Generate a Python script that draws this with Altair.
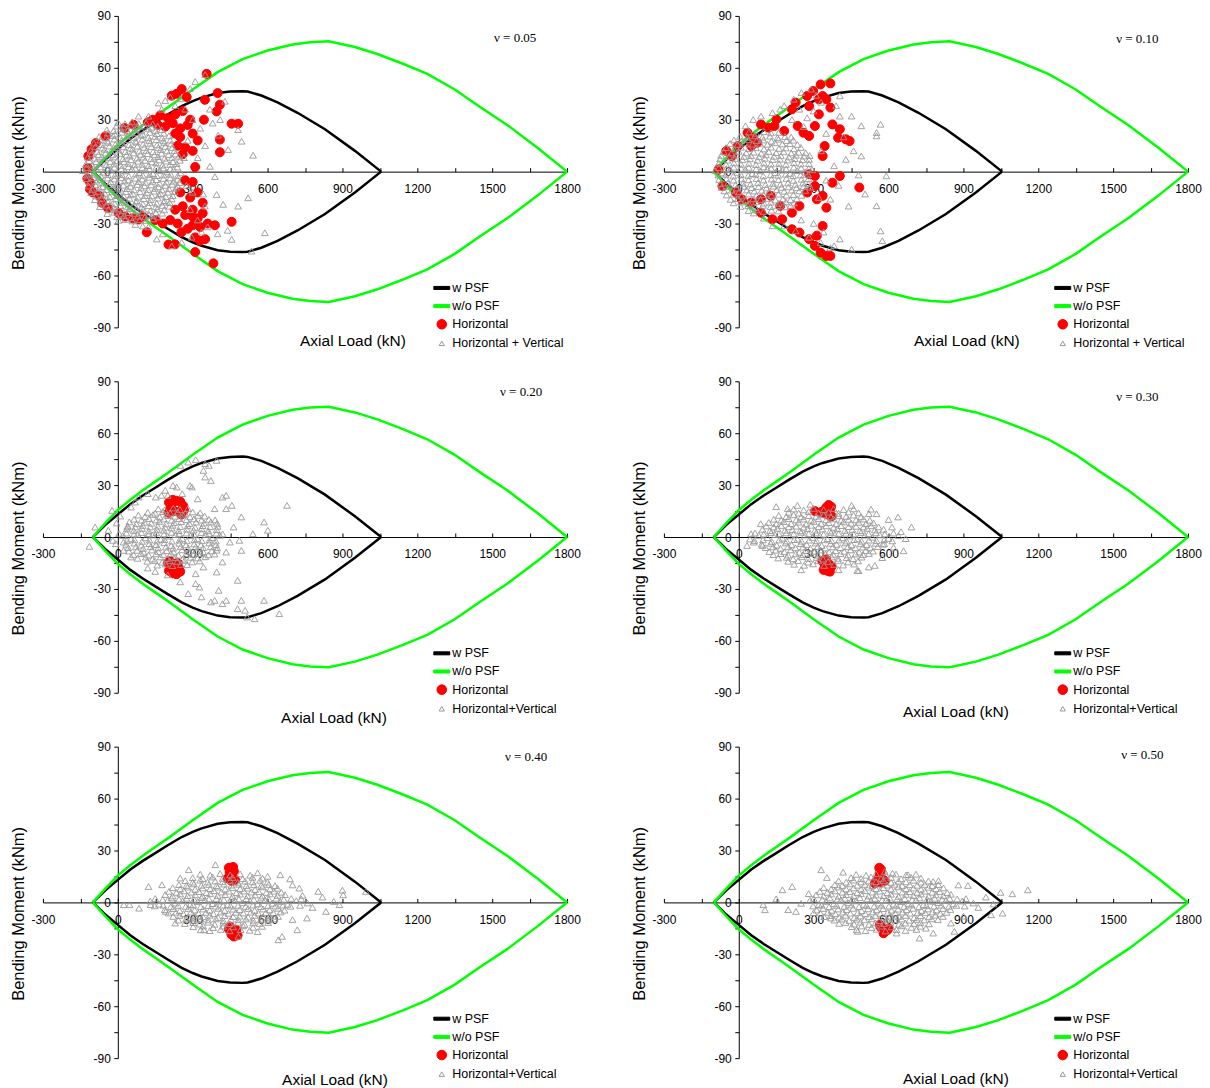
import altair as alt
import pandas as pd

FONT = "Liberation Sans"
W, H = 525, 312

# ---------------- envelopes (upper branch, lower branch is the mirror) ----------------
wpsf_n = [-100, -50, 0, 50, 100, 150, 200, 256, 300, 336, 400, 450, 500, 520, 575, 640, 720, 830, 950, 1055]
wpsf_m = [0, 7, 13, 19, 24, 28.5, 33, 37.8, 40.8, 42.8, 45.4, 46.3, 46.5, 46.3, 44, 40, 34, 24.5, 12, 0]
wopsf_n = [-100, -50, 0, 50, 100, 150, 200, 300, 400, 500, 600, 700, 770, 845, 950, 1040, 1140, 1240, 1350, 1450, 1560, 1680, 1800]
wopsf_m = [0, 8, 15.5, 21.5, 27, 32, 37, 47.5, 57.5, 65, 70, 73.5, 74.8, 75.3, 72, 68, 62.5, 56.5, 47.5, 37.5, 27, 14, 0]

x_ticks = [-300, -150, 0, 150, 300, 450, 600, 750, 900, 1050, 1200, 1350, 1500, 1650, 1800]
y_ticks = [-90, -75, -60, -45, -30, -15, 0, 15, 30, 45, 60, 75, 90]

nu_labels = ["ν = 0.05", "ν = 0.10", "ν = 0.20", "ν = 0.30", "ν = 0.40", "ν = 0.50"]
nu_n = [1592, 1597, 1616, 1597, 1636, 1617]
nu_m = [77.5, 76.7, 83.6, 80.8, 84.2, 85.4]
hv_names = ["Horizontal + Vertical", "Horizontal + Vertical", "Horizontal+Vertical",
            "Horizontal+Vertical", "Horizontal+Vertical", "Horizontal+Vertical"]
xtitle_x = [310, 303, 291, 292, 292, 292]
xtitle_y = [169, 169, 181, 175, 177, 176]

# ---------------- nu = 0.05 ----------------
hor_005 = [
    (356, 56.5), (216, 43.9), (236, 45), (256, 47.7), (276, 43.1), (349, 41.5), (400, 45.4), (409, 38.7), (396, 34.8),
    (345, 30), (456, 27.7), (482, 27.7), (409, 18.5), (409, 11.2), (310, 2.7), (63, 27.1), (27, 25.2), (140, 30),
    (170, 32.5), (200, 31), (230, 33), (260, 35), (290, 30), (300, 22), (320, 18), (300, 12), (280, 27), (250, 25),
    (220, 28), (190, 26), (160, 27), (120, 28.5), (-120, 2), (-122, -4), (-118, 9), (-112, -10), (-110, -6.5),
    (-100, -12), (-63, -18), (3, -23.9), (-88, 16.5), (-50, 20.4), (-105, 13), (-75, -14), (-40, -21), (30, -26),
    (60, -27), (83, -27.7), (116, -35), (203, -42.1), (229, -42), (310, -46.5), (383, -53), (310, -38), (330, -40),
    (350, -39), (389, -31), (456, -29), (150, -28), (180, -30), (210, -28), (240, -30), (270, -25), (300, -22),
    (320, -27), (340, -24), (360, -30), (300, -31), (280, -33), (260, -20), (290, -15), (320, -12), (340, -18),
    (250, -12), (270, -5), (300, -6), (100, -26), (230, -22), (255, -35), (330, -32), (300, -26), (240, 15),
    (260, 10), (250, 20), (270, 14), (230, 22),
]
hv_005 = [
    (-140, 0.5), (-113, -1), (-85, 1.2), (-57, -0.4), (-28, 0.8), (1, -1.1), (29, 0.3), (57, 1.4), (85, -0.6),
    (112, 0.9), (141, -1.3), (168, 0.6), (197, -0.2), (224, 1.1), (252, -0.8),
    (-128, 4.3), (-101, 3.6), (-71, 4.8), (-45, 3.9), (-15, 4.4), (12, 3.5), (41, 4.7), (67, 3.8), (97, 4.2),
    (123, 3.4), (153, 4.9), (179, 3.7), (209, 4.1), (236, 4.6),
    (-126, -4.1), (-97, -3.5), (-70, -4.6), (-41, -3.8), (-14, -4.3), (15, -3.6), (42, -4.9), (71, -3.9), (98, -4.4),
    (127, -3.3), (154, -4.7), (183, -4.0), (210, -3.7), (239, -4.5),
    (-121, 8.2), (-91, 7.6), (-64, 8.7), (-35, 7.9), (-9, 8.4), (21, 7.4), (48, 8.9), (77, 7.8), (103, 8.3),
    (133, 7.5), (161, 8.6), (188, 7.7), (217, 8.1), (244, 8.8),
    (-117, -8.4), (-90, -7.7), (-61, -8.8), (-34, -7.6), (-5, -8.2), (22, -7.9), (51, -8.6), (78, -7.5), (107, -8.3),
    (134, -7.8), (163, -8.9), (191, -8.0), (218, -7.4), (241, -8.5),
    (-109, 12.3), (-83, 11.6), (-53, 12.8), (-27, 11.7), (3, 12.4), (30, 11.5), (59, 12.9), (86, 11.8), (115, 12.2),
    (141, 11.4), (171, 12.7), (197, 11.9), (227, 12.1),
    (-107, -12.2), (-79, -11.5), (-52, -12.7), (-23, -11.8), (5, -12.5), (32, -11.6), (61, -12.9), (89, -11.7),
    (116, -12.3), (145, -11.4), (172, -12.8), (201, -12.0), (228, -11.6),
    (-96, 16.4), (-66, 15.6), (-39, 16.8), (-10, 15.7), (18, 16.2), (45, 15.5), (74, 16.9), (101, 15.8), (130, 16.3),
    (157, 15.4), (186, 16.6), (213, 15.9),
    (-92, -16.3), (-65, -15.5), (-36, -16.7), (-8, -15.8), (20, -16.4), (47, -15.6), (76, -16.9), (104, -15.7),
    (131, -16.2), (160, -15.4), (187, -16.8), (216, -15.9),
    (-75, 20.2), (-46, 19.6), (-19, 20.7), (10, 19.5), (37, 20.4), (66, 19.8), (93, 20.9), (122, 19.7), (149, 20.3),
    (178, 19.4), (205, 20.6),
    (-72, -20.3), (-45, -19.5), (-16, -20.8), (11, -19.7), (40, -20.2), (67, -19.4), (96, -20.6), (123, -19.8),
    (152, -20.4), (179, -19.6), (207, -20.1),
    (-44, 24.1), (-17, 23.6), (12, 24.7), (39, 23.5), (68, 24.3), (95, 23.8), (124, 24.6), (151, 23.7), (176, 24.2),
    (-42, -24.3), (-14, -23.5), (13, -24.6), (42, -23.7), (69, -24.2), (98, -23.6), (125, -24.8), (153, -23.9),
    (178, -24.1),
    (1, 28.3), (29, 27.6), (57, 28.7), (84, 27.8), (113, 28.2), (140, 27.5),
    (3, -28.2), (30, -27.7), (58, -28.6), (87, -27.9), (114, -28.3), (142, -27.4),
    (70, -30.6), (123, -32), (156, -39), (216, -43), (256, -41), (296, -38), (336, -35), (100, -31.5), (180, -36),
    (83, 32), (123, 32), (163, 39.6), (176, 36), (190, 41), (210, 43), (250, 42), (290, 48), (310, 52), (350, 56),
    (230, 38), (270, 36), (429, 40.6), (369, 36), (482, 24.2), (496, 17.5), (542, 9.4), (442, 12.7), (402, 21),
    (369, 3), (389, -3), (396, -13.3), (422, -19), (482, -20), (522, -15.2), (456, -39.2), (589, -35.4), (536, -46),
    (342, -13), (349, -20), (300, -12), (320, 8), (350, 15), (300, 30), (330, 25), (280, 18), (265, 8), (275, -8),
    (290, -22), (380, 28), (410, 30), (320, -28), (360, -32), (400, -36), (440, -34),
]
hv_005_b = [
    (-126, 2.2), (-98, 1.7), (-70, 2.6), (-42, 1.9), (-14, 2.4), (14, 1.6), (42, 2.7), (70, 1.8), (98, 2.3), (126, 1.5),
    (154, 2.5), (182, 2.0), (210, 1.7), (238, 2.6),
    (-124, -2.1), (-96, -1.6), (-68, -2.5), (-40, -1.8), (-12, -2.3), (16, -1.9), (44, -2.6), (72, -1.5), (100, -2.2),
    (128, -1.7), (156, -2.4), (184, -2.0), (212, -1.6), (240, -2.5),
    (-115, 6.3), (-87, 5.7), (-59, 6.6), (-31, 5.8), (-3, 6.2), (25, 5.6), (53, 6.8), (81, 5.9), (109, 6.4), (137, 5.5),
    (165, 6.7), (193, 6.0), (221, 5.7), (249, 6.5),
    (-113, -6.2), (-85, -5.6), (-57, -6.7), (-29, -5.9), (-1, -6.4), (27, -5.5), (55, -6.6), (83, -5.8), (111, -6.3),
    (139, -5.7), (167, -6.8), (195, -6.1), (223, -5.6), (247, -6.4),
    (-105, 10.2), (-77, 9.7), (-49, 10.6), (-21, 9.8), (7, 10.4), (35, 9.5), (63, 10.7), (91, 9.9), (119, 10.3),
    (147, 9.6), (175, 10.5), (203, 9.8), (231, 10.1),
    (-103, -10.3), (-75, -9.6), (-47, -10.5), (-19, -9.7), (9, -10.2), (37, -9.9), (65, -10.6), (93, -9.5), (121, -10.4),
    (149, -9.8), (177, -10.7), (205, -10.0), (233, -9.6),
    (-90, 14.3), (-62, 13.6), (-34, 14.7), (-6, 13.8), (22, 14.2), (50, 13.5), (78, 14.6), (106, 13.9), (134, 14.4),
    (162, 13.7), (190, 14.5), (218, 13.9),
    (-88, -14.2), (-60, -13.7), (-32, -14.6), (-4, -13.8), (24, -14.3), (52, -13.5), (80, -14.8), (108, -13.9),
    (136, -14.1), (164, -13.6), (192, -14.5), (220, -14.0),
    (-70, 18.2), (-42, 17.6), (-14, 18.7), (14, 17.8), (42, 18.4), (70, 17.5), (98, 18.6), (126, 17.9), (154, 18.3),
    (182, 17.7), (210, 18.1),
    (-68, -18.3), (-40, -17.5), (-12, -18.6), (16, -17.8), (44, -18.2), (72, -17.6), (100, -18.7), (128, -17.9),
    (156, -18.4), (184, -17.7), (208, -18.0),
    (-40, 22.2), (-12, 21.6), (16, 22.7), (44, 21.8), (72, 22.3), (100, 21.5), (128, 22.6), (156, 21.9), (184, 22.1),
    (-38, -22.1), (-10, -21.7), (18, -22.6), (46, -21.5), (74, -22.4), (102, -21.8), (130, -22.7), (158, -21.6),
    (186, -22.2),
    (-5, 26.2), (23, 25.7), (51, 26.6), (79, 25.8), (107, 26.3), (135, 25.6), (160, 26.1),
    (-3, -26.1), (25, -25.6), (53, -26.7), (81, -25.8), (109, -26.2), (137, -25.5), (162, -26.3),
]

# ---------------- nu = 0.10 ----------------
hor_010 = [
    (35, 22.5), (89, 27.3), (120, 25.4), (143, 26.4), (151, 30.2), (74, 16.7), (50, 14.8), (-4, 14.8), (-27, 9),
    (-50, 12), (-81, 1.3), (-65, -8.3), (-11, -12.1), (12, -16), (50, -17.9), (89, -23.7), (135, -27.5),
    (174, -27.5), (213, -33.3), (243, -35.2), (282, -39), (305, -42.9), (328, -46.8), (367, -48.7), (351, -48.7),
    (313, -37), (336, -31.4), (351, -20.8), (313, -16), (274, -12.1), (336, -14), (305, -8.3), (282, -1.5),
    (305, -2.5), (375, -6.4), (405, -2.5), (483, -9.2), (243, -19.8), (213, -23.7), (166, -19.8), (128, -14),
    (89, -16), (213, 36), (228, 39.9), (274, 43.7), (298, 46.6), (328, 50.4), (367, 51), (282, 37.9), (321, 41.8),
    (336, 43.7), (351, 41.8), (367, 37), (321, 33.1), (305, 26.4), (282, 20.6), (344, 14.8), (336, 9), (375, 27.3),
    (405, 24.5), (429, 18.7), (444, 17.7), (398, 19.6), (259, 22.5), (236, 26.4), (182, 23.5), (58, 19.6),
]
hv_010 = [
    (-95, 0.6), (-66, -0.9), (-34, 1.1), (-6, -0.5), (26, 0.9), (54, -1.2), (86, 0.4), (114, 1.3), (146, -0.7),
    (174, 0.8), (206, -1.1), (234, 0.5), (266, -0.3), (294, 1.0),
    (-80, 4.8), (-51, 4.1), (-19, 5.0), (9, 4.2), (41, 4.7), (69, 4.0), (101, 4.9), (129, 4.3), (161, 4.6),
    (189, 4.1), (221, 5.1), (249, 4.4), (281, 4.6),
    (-79, -4.6), (-49, -4.2), (-21, -5.0), (11, -4.3), (39, -4.8), (71, -4.1), (99, -4.9), (131, -4.4), (159, -4.7),
    (191, -4.0), (219, -5.1), (251, -4.5), (279, -4.2),
    (-71, 9.3), (-39, 8.6), (-11, 9.5), (21, 8.7), (49, 9.2), (81, 8.5), (109, 9.6), (141, 8.8), (169, 9.1),
    (201, 8.4), (229, 9.4), (261, 8.9), (284, 9.2),
    (-69, -9.2), (-41, -8.7), (-9, -9.6), (19, -8.6), (51, -9.3), (79, -8.8), (111, -9.5), (139, -8.5), (171, -9.2),
    (199, -8.9), (231, -9.4), (259, -8.7), (286, -9.0),
    (-51, 13.8), (-19, 13.1), (9, 14.0), (41, 13.2), (69, 13.7), (101, 13.0), (129, 14.1), (161, 13.3), (189, 13.6),
    (221, 13.1), (249, 13.9),
    (-49, -13.6), (-21, -13.2), (11, -14.1), (39, -13.0), (71, -13.8), (99, -13.3), (131, -13.9), (159, -13.1),
    (191, -13.7), (219, -13.4), (251, -13.8),
    (-19, 18.3), (11, 17.6), (39, 18.5), (71, 17.8), (99, 18.2), (131, 17.5), (159, 18.6), (191, 17.9), (219, 18.1),
    (-21, -18.1), (9, -17.7), (41, -18.6), (69, -17.5), (101, -18.3), (129, -17.8), (161, -18.4), (189, -17.6),
    (221, -18.2),
    (41, 22.8), (69, 22.1), (101, 23.0), (129, 22.3), (161, 22.6),
    (39, -22.6), (71, -22.2), (99, -23.1), (131, -22.4), (159, -22.8),
    (27, 26.4), (58, 30), (89, 32), (135, 34), (182, 38), (220, 41.8), (251, 45.6), (290, 47.6), (243, 36), (166, 36),
    (274, 31), (213, 30), (310, 44), (330, 40), (300, 35), (260, 26),
    (135, -31.4), (182, -31.4), (228, -34.3), (282, -38), (328, -41), (367, -44), (100, -27), (60, -24), (250, -28),
    (300, -30), (340, -35),
    (382, 3.3), (429, 7), (491, 26.4), (552, 22.5), (552, 20.6), (568, 27.3), (591, -2.5), (506, -13), (552, -19.8),
    (568, -34.3), (575, -40), (452, -44.9), (405, -39), (382, -42.9), (367, -16), (460, 12), (405, 32), (452, 32),
    (405, 43.7), (390, 38), (491, 9), (330, 12), (350, -5), (320, -15), (400, -8), (420, 20), (350, 22), (440, -20),
    (480, -2),
]
hv_010_b = [
    (-80, 2.2), (-50, 1.7), (-20, 2.5), (10, 1.8), (40, 2.4), (70, 1.6), (100, 2.6), (130, 1.9), (160, 2.3), (190, 1.5),
    (220, 2.5), (250, 2.0), (280, 1.8),
    (-82, -2.1), (-52, -1.7), (-22, -2.6), (8, -1.8), (38, -2.3), (68, -1.6), (98, -2.5), (128, -1.9), (158, -2.2),
    (188, -1.6), (218, -2.4), (248, -2.0), (278, -1.7),
    (-75, 7.2), (-45, 6.6), (-15, 7.5), (15, 6.8), (45, 7.3), (75, 6.5), (105, 7.6), (135, 6.9), (165, 7.1), (195, 6.6),
    (225, 7.4), (255, 6.8), (282, 7.0),
    (-73, -7.1), (-43, -6.7), (-13, -7.6), (17, -6.8), (47, -7.2), (77, -6.5), (107, -7.5), (137, -6.9), (167, -7.3),
    (197, -6.6), (227, -7.4), (257, -6.7), (280, -7.0),
    (-60, 11.3), (-30, 10.7), (0, 11.6), (30, 10.8), (60, 11.2), (90, 10.6), (120, 11.5), (150, 10.9), (180, 11.4),
    (210, 10.7), (240, 11.1), (268, 10.8),
    (-58, -11.2), (-28, -10.8), (2, -11.6), (32, -10.7), (62, -11.3), (92, -10.9), (122, -11.5), (152, -10.6),
    (182, -11.4), (212, -10.8), (242, -11.2), (266, -10.9),
    (-35, 16.2), (-5, 15.6), (25, 16.5), (55, 15.8), (85, 16.3), (115, 15.7), (145, 16.6), (175, 15.9), (205, 16.1),
    (235, 15.6),
    (-33, -16.1), (-3, -15.7), (27, -16.6), (57, -15.8), (87, -16.2), (117, -15.6), (147, -16.5), (177, -15.9),
    (207, -16.3), (233, -15.7),
    (5, 20.3), (35, 19.7), (65, 20.6), (95, 19.8), (125, 20.4), (155, 19.6), (185, 20.2), (210, 19.9),
    (7, -20.2), (37, -19.8), (67, -20.7), (97, -19.6), (127, -20.3), (157, -19.9), (187, -20.4), (208, -19.7),
]

# ---------------- nu = 0.20 ----------------
hor_020 = [
    (205, 20), (220, 21.5), (235, 21), (250, 20.5), (262, 18), (210, 16.5), (225, 15), (245, 14.5), (265, 15.5),
    (215, 18.5), (255, 13), (203, 14),
    (200, -15), (215, -17), (230, -19), (220, -21), (205, -19.5), (245, -18), (240, -15), (210, -14), (235, -21.5),
    (250, -20),
]
hv_020 = [
    (20, 0.8), (52, -1.2), (79, 1.5), (111, -0.6), (138, 1.1), (172, -1.4), (199, 0.4), (231, 1.3), (258, -0.9),
    (291, 0.7), (319, -1.1), (352, 1.4), (378, -0.5), (409, 0.9),
    (36, 4.6), (64, 3.7), (97, 4.9), (124, 3.4), (157, 4.3), (184, 3.8), (216, 5.1), (244, 3.6), (277, 4.4),
    (304, 3.9), (336, 4.8), (363, 3.5), (396, 4.2),
    (33, -4.3), (66, -3.6), (94, -4.8), (126, -3.9), (153, -4.5), (186, -3.4), (214, -5.0), (246, -3.7), (273, -4.6),
    (306, -4.1), (333, -4.7), (366, -3.5), (393, -4.4),
    (46, 8.7), (74, 7.6), (107, 8.4), (134, 7.9), (166, 8.9), (193, 7.5), (226, 8.2), (254, 8.8), (287, 7.7),
    (314, 8.5), (346, 8.0), (373, 8.6), (398, 7.8),
    (44, -8.2), (77, -7.8), (104, -8.9), (136, -7.6), (163, -8.5), (196, -8.0), (224, -8.7), (257, -7.5), (284, -8.4),
    (316, -7.9), (343, -8.8), (376, -8.1), (396, -7.7),
    (82, 12.6), (109, 11.8), (141, 12.9), (168, 11.5), (201, 12.3), (229, 11.9), (262, 12.7), (289, 11.6), (321, 12.4),
    (348, 12.0),
    (79, -12.4), (112, -11.7), (139, -12.8), (171, -11.6), (198, -12.5), (231, -12.0), (259, -12.9), (292, -11.8),
    (319, -12.2), (351, -11.5),
    (162, 16.2), (188, 15.6), (222, 16.7), (249, 15.8), (281, 16.4),
    (158, -16.3), (191, -15.7), (219, -16.6), (252, -15.9), (278, -16.1),
    (251, 41.3), (282, 43.2), (312, 44.6), (350, 42.3), (365, 41.3), (343, 38.4), (350, 34.6), (373, 32.6), (396, 44.2),
    (236, 28.8), (221, 29.7), (190, 26.9), (289, 29.7), (297, 28.8), (175, 24), (152, 23), (69, 20.1), (53, 17.2),
    (84, 23), (-23, 15.3), (120, 25), (200, 24), (258, 25), (320, 22), (10, 12), (-5, 8),
    (419, 23), (434, 24), (457, 18.2), (495, 11.5), (586, 8.6), (678, 18.2), (601, 3.8), (541, 1.8), (464, 5.7),
    (434, 16.3), (388, 16.3), (487, -2), (495, -7.8), (449, -3), (434, -8.8), (419, -14.5), (396, -20.3), (312, -21.3),
    (312, -27), (327, -29), (343, -17.4),
    (373, -37.6), (419, -38.6), (434, -36.7), (404, -30.9), (480, -25.1), (480, -41.5), (510, -42.4), (518, -46.3),
    (548, -47.3), (495, -36.7), (586, -36.7), (647, -44.4), (388, -36.7), (335, -34.7), (282, -32.8), (250, -26),
    (200, -22), (150, -20), (120, -18),
    (-114, -5.5), (-91, 5.7), (-38, 3.8), (-8, -3.9), (23, -7.8), (53, -11.6), (23, -3), (38, 5.7), (5, 2), (-20, -2),
]
hv_020_b = [
    (35, 2.2), (65, 1.6), (95, 2.5), (125, 1.8), (155, 2.3), (185, 1.7), (215, 2.6), (245, 1.9), (275, 2.2), (305, 1.5),
    (335, 2.4), (365, 1.9), (395, 2.1), (420, 1.7),
    (37, -2.1), (67, -1.7), (97, -2.6), (127, -1.8), (157, -2.4), (187, -1.6), (217, -2.5), (247, -1.9), (277, -2.3),
    (307, -1.7), (337, -2.2), (367, -1.8), (393, -2.4),
    (40, 6.3), (70, 5.7), (100, 6.6), (130, 5.8), (160, 6.2), (190, 5.6), (220, 6.7), (250, 5.9), (280, 6.4), (310, 5.5),
    (340, 6.5), (370, 5.9), (400, 6.1),
    (42, -6.2), (72, -5.8), (102, -6.6), (132, -5.7), (162, -6.3), (192, -5.9), (222, -6.5), (252, -5.6), (282, -6.4),
    (312, -5.8), (342, -6.2), (372, -5.7), (398, -6.3),
    (65, 10.2), (95, 9.7), (125, 10.6), (155, 9.8), (185, 10.3), (215, 9.6), (245, 10.5), (275, 9.9), (305, 10.4),
    (335, 9.7), (365, 10.1), (390, 9.8),
    (63, -10.3), (93, -9.7), (123, -10.5), (153, -9.8), (183, -10.2), (213, -9.6), (243, -10.6), (273, -9.9),
    (303, -10.1), (333, -9.7), (363, -10.4), (388, -9.9),
    (120, 14.2), (150, 13.7), (180, 14.6), (210, 13.8), (240, 14.3), (270, 13.6), (300, 14.4), (330, 13.9),
    (118, -14.1), (148, -13.7), (178, -14.6), (208, -13.8), (238, -14.2), (268, -13.6), (298, -14.5), (328, -13.9),
]

# ---------------- nu = 0.30 ----------------
hor_030 = [
    (350, 17), (360, 18.5), (370, 17.5), (340, 14), (330, 14.5), (355, 13), (365, 15.5), (372, 12), (305, 15),
    (335, -14), (345, -17), (355, -19.5), (365, -20), (372, -17), (350, -13), (360, -15.5), (340, -19),
]
hv_030 = [
    (45, -1.2), (80, 0.9), (115, -0.4), (145, 1.3), (175, -0.8), (205, 0.6), (235, -1.4), (265, 1.1), (295, -0.3),
    (325, 0.8), (355, -1.1), (385, 1.4), (415, -0.6), (445, 0.5), (475, -1.3), (505, 1.0), (535, -0.2), (565, 1.2),
    (600, -0.9), (640, 0.7),
    (95, 4.4), (125, 3.6), (155, 4.9), (185, 3.8), (215, 4.2), (245, 3.5), (275, 4.8), (305, 3.9), (335, 4.5),
    (365, 3.4), (395, 4.7), (425, 3.7), (455, 4.3), (485, 3.6), (515, 4.9), (545, 4.0), (580, 4.4),
    (92, -4.2), (128, -3.7), (152, -4.8), (188, -3.5), (212, -4.6), (248, -3.9), (272, -4.4), (308, -3.6), (332, -5.0),
    (368, -3.8), (392, -4.3), (428, -3.5), (452, -4.7), (488, -4.0), (512, -4.5), (548, -3.7), (577, -4.2),
    (120, 8.3), (150, 7.6), (180, 8.8), (210, 7.7), (240, 8.5), (270, 7.4), (300, 8.9), (330, 7.8), (360, 8.2),
    (390, 7.5), (420, 8.7), (450, 7.9), (480, 8.4), (510, 7.6), (540, 8.1),
    (122, -8.5), (148, -7.7), (182, -8.6), (208, -7.5), (242, -8.9), (268, -7.8), (302, -8.3), (328, -7.6), (362, -8.7),
    (388, -8.0), (422, -8.4), (448, -7.5), (482, -8.8), (508, -7.9), (538, -8.2),
    (160, 12.4), (190, 11.7), (220, 12.8), (250, 11.6), (280, 12.3), (310, 11.9), (340, 12.7), (370, 11.5), (400, 12.2),
    (430, 11.8), (460, 12.6), (490, 11.6),
    (158, -12.2), (192, -11.8), (218, -12.7), (252, -11.5), (278, -12.5), (312, -11.9), (338, -12.8), (372, -11.6),
    (398, -12.4), (432, -12.0), (458, -12.6), (492, -11.7),
    (220, 16.1), (260, 15.6), (300, 16.5), (340, 15.7), (380, 16.3), (420, 15.8), (460, 16.2),
    (222, -15.8), (262, -16.4), (298, -15.6), (342, -16.5), (382, -15.9), (418, -16.3), (462, -15.7),
    (33, -5), (49, 1.8), (88, 7.6), (95, -5), (60, -3), (692, 5.7), (669, -1), (638, 11.5), (614, 5.7), (583, -4),
    (521, -17.4), (475, -19.4), (545, -16.5), (196, 16.3), (235, 18.2), (286, 18.8), (452, 18.2), (521, 13.4),
    (552, 13.4), (620, -6), (650, 3), (600, 10), (575, -12), (660, -8), (530, 16), (150, 17.5), (480, -19.5),
    (400, -19), (250, -19),
]
hv_030_b = [
    (65, 2.2), (100, 1.6), (130, 2.5), (160, 1.8), (190, 2.3), (220, 1.7), (250, 2.6), (280, 1.9), (310, 2.2),
    (340, 1.5), (370, 2.4), (400, 1.9), (430, 2.1), (460, 1.6), (490, 2.5), (520, 1.8), (550, 2.3), (585, 1.7),
    (620, 2.2),
    (62, -2.1), (97, -1.7), (132, -2.6), (162, -1.8), (192, -2.4), (222, -1.6), (252, -2.5), (282, -1.9), (312, -2.3),
    (342, -1.7), (372, -2.2), (402, -1.8), (432, -2.4), (462, -1.6), (492, -2.5), (522, -1.9), (552, -2.2),
    (582, -1.7), (615, -2.3),
    (110, 6.3), (140, 5.7), (170, 6.6), (200, 5.8), (230, 6.2), (260, 5.6), (290, 6.7), (320, 5.9), (350, 6.4),
    (380, 5.5), (410, 6.5), (440, 5.9), (470, 6.1), (500, 5.7), (530, 6.4), (560, 5.8),
    (107, -6.2), (137, -5.8), (167, -6.6), (197, -5.7), (227, -6.3), (257, -5.9), (287, -6.5), (317, -5.6),
    (347, -6.4), (377, -5.8), (407, -6.2), (437, -5.7), (467, -6.3), (497, -5.9), (527, -6.1), (557, -5.6),
    (140, 10.2), (170, 9.7), (200, 10.6), (230, 9.8), (260, 10.3), (290, 9.6), (320, 10.5), (350, 9.9), (380, 10.4),
    (410, 9.7), (440, 10.1), (470, 9.8), (500, 10.3), (525, 9.6),
    (138, -10.3), (168, -9.7), (198, -10.5), (228, -9.8), (258, -10.2), (288, -9.6), (318, -10.6), (348, -9.9),
    (378, -10.1), (408, -9.7), (438, -10.4), (468, -9.9), (498, -10.2), (522, -9.6),
    (200, 14.2), (240, 13.7), (280, 14.6), (320, 13.8), (360, 14.3), (400, 13.6), (440, 14.4), (480, 13.9),
    (198, -14.1), (238, -13.7), (278, -14.6), (318, -13.8), (358, -14.2), (398, -13.6), (438, -14.5), (478, -13.9),
]

# ---------------- nu = 0.40 ----------------
hor_040 = [
    (445, 20), (455, 19.5), (465, 18), (450, 16), (460, 15), (440, 14), (470, 13), (455, 12.5), (448, 17.5),
    (462, 20.5),
    (450, -14), (460, -16), (470, -18), (480, -19), (455, -18.5), (445, -15.5), (475, -16), (465, -19.7),
]
hv_040 = [
    (130, 0.7), (165, -1.1), (200, 1.3), (230, -0.5), (260, 0.9), (290, -1.3), (320, 0.4), (350, 1.2), (380, -0.8),
    (410, 0.6), (440, -1.4), (470, 1.1), (500, -0.3), (530, 0.8), (560, -1.0), (590, 1.4), (620, -0.6), (650, 0.5),
    (680, -1.2), (715, 0.9), (760, -0.4),
    (190, 4.5), (220, 3.6), (250, 4.8), (280, 3.8), (310, 4.3), (340, 3.5), (370, 4.9), (400, 3.9), (430, 4.4),
    (460, 3.4), (490, 4.7), (520, 3.7), (550, 4.2), (580, 3.6), (610, 4.8), (640, 4.0), (670, 4.4),
    (188, -4.3), (222, -3.7), (248, -4.9), (282, -3.6), (308, -4.5), (342, -3.9), (368, -4.6), (402, -3.5), (428, -4.8),
    (462, -4.0), (488, -4.3), (522, -3.6), (548, -4.7), (582, -3.9), (608, -4.4), (642, -3.5), (668, -4.6),
    (220, 8.4), (250, 7.7), (280, 8.8), (310, 7.5), (340, 8.3), (370, 7.9), (400, 8.7), (430, 7.6), (460, 8.5),
    (490, 7.8), (520, 8.2), (550, 7.4), (580, 8.9), (610, 7.7), (640, 8.1),
    (222, -8.2), (248, -7.6), (282, -8.7), (308, -7.9), (342, -8.4), (368, -7.5), (402, -8.8), (428, -7.7), (462, -8.3),
    (488, -8.0), (522, -8.6), (548, -7.6), (582, -8.5), (608, -7.8), (642, -8.2),
    (270, 12.5), (300, 11.6), (330, 12.8), (360, 11.7), (390, 12.3), (420, 11.9), (450, 12.6), (480, 11.5), (510, 12.2),
    (540, 11.8), (570, 12.7), (600, 11.6),
    (268, -12.3), (302, -11.8), (328, -12.6), (362, -11.5), (388, -12.7), (422, -12.0), (448, -12.4), (482, -11.6),
    (508, -12.8), (542, -11.9), (568, -12.2), (602, -11.7),
    (330, 16.2), (370, 15.7), (410, 16.6), (450, 15.8), (490, 16.4), (530, 15.6),
    (332, -15.9), (368, -16.4), (412, -15.7), (448, -16.5), (492, -15.8), (528, -16.2),
    (284, 18.8), (391, 21.7), (651, 15.9), (727, 8.2), (803, 6.3), (903, 4.3), (994, 6.3), (865, 0.5), (888, -1.4),
    (834, -5.3), (758, -9.1), (719, -15.9), (658, -19.7), (643, -21.7), (483, -19.7), (345, -15.9), (131, -1.4),
    (85, -3.4), (47, -1.4), (24, -1.4), (123, 9.1), (177, 10.1), (192, -5.3), (700, 10), (780, -3), (820, 3),
    (560, 17), (600, 15), (250, 14), (230, -12), (700, -10), (740, 4), (900, 7), (690, 13.5), (560, -17),
]
hv_040_b = [
    (150, 2.2), (180, 1.6), (215, 2.5), (245, 1.8), (275, 2.3), (305, 1.7), (335, 2.6), (365, 1.9), (395, 2.2),
    (425, 1.5), (455, 2.4), (485, 1.9), (515, 2.1), (545, 1.6), (575, 2.5), (605, 1.8), (635, 2.3), (665, 1.7),
    (695, 2.2), (735, 1.9),
    (148, -2.1), (182, -1.7), (212, -2.6), (242, -1.8), (272, -2.4), (302, -1.6), (332, -2.5), (362, -1.9),
    (392, -2.3), (422, -1.7), (452, -2.2), (482, -1.8), (512, -2.4), (542, -1.6), (572, -2.5), (602, -1.9),
    (632, -2.2), (662, -1.7), (692, -2.3), (730, -1.8),
    (205, 6.3), (235, 5.7), (265, 6.6), (295, 5.8), (325, 6.2), (355, 5.6), (385, 6.7), (415, 5.9), (445, 6.4),
    (475, 5.5), (505, 6.5), (535, 5.9), (565, 6.1), (595, 5.7), (625, 6.4), (655, 5.8),
    (203, -6.2), (233, -5.8), (263, -6.6), (293, -5.7), (323, -6.3), (353, -5.9), (383, -6.5), (413, -5.6),
    (443, -6.4), (473, -5.8), (503, -6.2), (533, -5.7), (563, -6.3), (593, -5.9), (623, -6.1), (653, -5.6),
    (245, 10.2), (275, 9.7), (305, 10.6), (335, 9.8), (365, 10.3), (395, 9.6), (425, 10.5), (455, 9.9), (485, 10.4),
    (515, 9.7), (545, 10.1), (575, 9.8), (605, 10.3), (630, 9.6),
    (243, -10.3), (273, -9.7), (303, -10.5), (333, -9.8), (363, -10.2), (393, -9.6), (423, -10.6), (453, -9.9),
    (483, -10.1), (513, -9.7), (543, -10.4), (573, -9.9), (603, -10.2), (628, -9.6),
    (300, 14.2), (340, 13.7), (380, 14.6), (420, 13.8), (460, 14.3), (500, 13.6), (540, 14.4), (580, 13.9),
    (302, -14.1), (342, -13.7), (382, -14.6), (422, -13.8), (462, -14.2), (502, -13.6), (542, -14.5), (578, -13.9),
]

# ---------------- nu = 0.50 ----------------
hor_050 = [
    (563, 20), (565, 18), (566, 16), (560, 14), (575, 13.5), (550, 12), (585, 12.5), (545, 11), (568, 11.5),
    (570, 19),
    (565, -13), (575, -15), (585, -17), (595, -16), (580, -17.8), (570, -14.5), (600, -15),
]
hv_050 = [
    (250, -0.6), (285, 1.1), (320, -1.3), (350, 0.5), (380, -0.9), (410, 1.4), (440, -0.3), (470, 0.8), (500, -1.2),
    (530, 1.0), (560, -0.5), (590, 1.3), (620, -1.1), (650, 0.4), (680, -0.7), (710, 1.2), (740, -1.4), (770, 0.6),
    (800, -0.2), (830, 1.1), (860, -0.9), (895, 0.7), (940, -0.4),
    (310, 4.3), (340, 3.7), (370, 4.8), (400, 3.5), (430, 4.4), (460, 3.9), (490, 4.9), (520, 3.6), (550, 4.2),
    (580, 3.8), (610, 4.7), (640, 3.4), (670, 4.5), (700, 3.9), (730, 4.8), (760, 3.6), (790, 4.3), (820, 3.8),
    (850, 4.6),
    (312, -4.5), (338, -3.6), (372, -4.7), (398, -3.9), (432, -4.2), (458, -3.5), (492, -4.9), (518, -3.8), (552, -4.4),
    (578, -3.7), (612, -4.6), (638, -4.0), (672, -4.3), (698, -3.5), (732, -4.8), (758, -3.9), (792, -4.5),
    (818, -3.6), (848, -4.2),
    (340, 8.5), (370, 7.6), (400, 8.8), (430, 7.7), (460, 8.3), (490, 7.5), (520, 8.7), (550, 7.9), (580, 8.4),
    (610, 7.6), (640, 8.9), (670, 7.8), (700, 8.2), (730, 7.5), (760, 8.6), (790, 7.9), (820, 8.3),
    (342, -8.3), (368, -7.7), (402, -8.6), (428, -7.5), (462, -8.8), (488, -7.9), (522, -8.4), (548, -7.6), (582, -8.7),
    (608, -8.0), (642, -8.2), (668, -7.6), (702, -8.9), (728, -7.8), (762, -8.4), (788, -7.5), (818, -8.2),
    (400, 12.4), (430, 11.6), (460, 12.8), (490, 11.7), (520, 12.3), (550, 11.9), (580, 12.6), (610, 11.5), (640, 12.2),
    (670, 11.8), (700, 12.7), (730, 11.6), (760, 12.3),
    (402, -12.2), (428, -11.7), (462, -12.6), (488, -11.5), (522, -12.8), (548, -11.9), (582, -12.3), (608, -11.6),
    (642, -12.7), (668, -12.0), (702, -12.4), (728, -11.7), (762, -12.5),
    (470, 16.1), (510, 15.6), (550, 16.5), (590, 15.7), (630, 16.3), (670, 15.8), (710, 16.2),
    (472, -15.9), (508, -16.4), (552, -15.6), (588, -16.6), (632, -15.8), (668, -16.3), (712, -15.7),
    (98, -1.4), (105, -4.3), (175, 7.2), (214, 9.1), (330, 18.8), (353, 14.3), (418, 17.4), (585, 17.8), (616, 16.8),
    (678, 15.9), (779, 12), (918, 9.7), (1049, 5.7), (1096, 4.9), (1158, 7.2), (1057, -6.3), (1011, -7.2),
    (864, -16.8), (779, -17.8), (724, -20.7), (632, -17.8), (477, -16.8), (198, -4.3), (229, -5.3), (369, -9.1),
    (150, 2), (960, -3), (990, 3), (880, 10), (850, -12), (900, -8), (280, 5), (300, -6), (1020, -1), (800, 12.5),
    (750, -15),
]
hv_050_b = [
    (300, 2.2), (335, 1.6), (365, 2.5), (395, 1.8), (425, 2.3), (455, 1.7), (485, 2.6), (515, 1.9), (545, 2.2),
    (575, 1.5), (605, 2.4), (635, 1.9), (665, 2.1), (695, 1.6), (725, 2.5), (755, 1.8), (785, 2.3), (815, 1.7),
    (845, 2.2), (875, 1.9), (910, 2.1),
    (298, -2.1), (332, -1.7), (362, -2.6), (392, -1.8), (422, -2.4), (452, -1.6), (482, -2.5), (512, -1.9),
    (542, -2.3), (572, -1.7), (602, -2.2), (632, -1.8), (662, -2.4), (692, -1.6), (722, -2.5), (752, -1.9),
    (782, -2.2), (812, -1.7), (842, -2.3), (872, -1.8), (905, -2.2),
    (325, 6.3), (355, 5.7), (385, 6.6), (415, 5.8), (445, 6.2), (475, 5.6), (505, 6.7), (535, 5.9), (565, 6.4),
    (595, 5.5), (625, 6.5), (655, 5.9), (685, 6.1), (715, 5.7), (745, 6.4), (775, 5.8), (805, 6.2), (835, 5.6),
    (327, -6.2), (357, -5.8), (387, -6.6), (417, -5.7), (447, -6.3), (477, -5.9), (507, -6.5), (537, -5.6),
    (567, -6.4), (597, -5.8), (627, -6.2), (657, -5.7), (687, -6.3), (717, -5.9), (747, -6.1), (777, -5.6),
    (807, -6.4), (833, -5.8),
    (385, 10.2), (415, 9.7), (445, 10.6), (475, 9.8), (505, 10.3), (535, 9.6), (565, 10.5), (595, 9.9), (625, 10.4),
    (655, 9.7), (685, 10.1), (715, 9.8), (745, 10.3), (775, 9.6), (800, 10.2),
    (383, -10.3), (413, -9.7), (443, -10.5), (473, -9.8), (503, -10.2), (533, -9.6), (563, -10.6), (593, -9.9),
    (623, -10.1), (653, -9.7), (683, -10.4), (713, -9.9), (743, -10.2), (773, -9.6), (798, -10.1),
    (450, 14.2), (490, 13.7), (530, 14.6), (570, 13.8), (610, 14.3), (650, 13.6), (690, 14.4), (730, 13.9),
    (452, -14.1), (492, -13.7), (532, -14.6), (572, -13.8), (612, -14.2), (652, -13.6), (692, -14.5), (728, -13.9),
]

hor_sets = [hor_005, hor_010, hor_020, hor_030, hor_040, hor_050]
hv_sets = [hv_005 + hv_005_b, hv_010 + hv_010_b, hv_020 + hv_020_b,
           hv_030 + hv_030_b, hv_040 + hv_040_b, hv_050 + hv_050_b]

# ---------------- styling constants ----------------
LINE_PATH = "M-1,-0.19H1V0.19H-1Z"
CIRCLE_PATH = "M0.6,0A0.6,0.6,0,1,1,-0.6,0A0.6,0.6,0,1,1,0.6,0Z"
TRI_PATH = "M0,-0.3L0.33,0.27L-0.33,0.27Z"
X_OFF = -W * 300 / 2100
Y_OFF = -H / 2


def curve_df(ns, ms):
    rows = []
    for i, (n, m) in enumerate(zip(ns, ms)):
        rows.append({"N": n, "M": m, "branch": "upper", "i": i})
        rows.append({"N": n, "M": -m, "branch": "lower", "i": i})
    return pd.DataFrame(rows)


def make_panel(k):
    hv_name = hv_names[k]
    xaxis = alt.Axis(
        orient="top", offset=Y_OFF, values=x_ticks,
        labelExpr="datum.value % 300 === 0 ? '' + datum.value : ''",
        tickSize=4, tickColor="#000", tickWidth=1, domainColor="#000", domainWidth=1,
        labelPadding=-21, labelBaseline="middle", labelFlush=False, labelOverlap=False, labelBound=False,
        labelFont=FONT, labelFontSize=12, labelColor="#000", grid=False,
        title="Axial Load (kN)", titleX=xtitle_x[k], titleY=xtitle_y[k], titleAlign="center", titleBaseline="middle",
        titleAngle=0, titleFont=FONT, titleFontSize=15.5, titleFontWeight="normal", titleColor="#000",
    )
    yaxis = alt.Axis(
        orient="left", offset=X_OFF, values=y_ticks,
        labelExpr="datum.value % 30 === 0 ? '' + datum.value : ''",
        tickSize=4, tickColor="#000", tickWidth=1, domainColor="#000", domainWidth=1,
        labelPadding=3.5, labelFlush=False, labelOverlap=False, labelBound=False,
        labelFont=FONT, labelFontSize=12, labelColor="#000", grid=False,
        title="Bending Moment (kNm)", titleX=-24 + X_OFF, titleY=167, titleAlign="center", titleBaseline="middle",
        titleAngle=270, titleFont=FONT, titleFontSize=16.5, titleFontWeight="normal", titleColor="#000",
    )
    x = alt.X("N:Q", scale=alt.Scale(domain=[-300, 1800], nice=False, zero=False), axis=xaxis)
    y = alt.Y("M:Q", scale=alt.Scale(domain=[-90, 90], nice=False, zero=False), axis=yaxis)

    dom = ["w PSF", "w/o PSF", "Horizontal", hv_name]
    leg = alt.Legend(
        orient="none", legendX=391, legendY=264, title=None, symbolSize=256, symbolStrokeWidth=1,
        labelFont=FONT, labelFontSize=12.5, labelColor="#000", labelOffset=2, rowPadding=3.2, padding=0,
    )
    fill = alt.Fill("series:N", scale=alt.Scale(domain=dom, range=["#000000", "#00ff00", "#ff0000", "transparent"]), legend=leg)
    stroke = alt.Stroke("series:N", scale=alt.Scale(domain=dom, range=["#000000", "#00ff00", "#ff0000", "#999999"]), legend=leg)
    shape = alt.Shape("series:N", scale=alt.Scale(domain=dom, range=[LINE_PATH, LINE_PATH, CIRCLE_PATH, TRI_PATH]), legend=leg)

    black = alt.Chart(curve_df(wpsf_n, wpsf_m)).mark_line(color="#000000", strokeWidth=2.5).encode(
        x=x, y=y, detail="branch:N", order="i:Q")
    green = alt.Chart(curve_df(wopsf_n, wopsf_m)).mark_line(color="#00ff00", strokeWidth=2.5).encode(
        x=x, y=y, detail="branch:N", order="i:Q")

    hdf = pd.DataFrame(hor_sets[k], columns=["N", "M"]).assign(series="Horizontal")
    vdf = pd.DataFrame(hv_sets[k], columns=["N", "M"]).assign(series=hv_name)

    red = alt.Chart(hdf).mark_point(filled=True, opacity=1, size=225, strokeWidth=1).encode(
        x=x, y=y, fill=fill, stroke=stroke, shape=shape)
    gray = alt.Chart(vdf).mark_point(filled=True, opacity=1, size=412, strokeWidth=0.9).encode(
        x=x, y=y, fill=fill, stroke=stroke, shape=shape)

    tdf = pd.DataFrame({"N": [nu_n[k]], "M": [nu_m[k]], "t": [nu_labels[k]]})
    txt = alt.Chart(tdf).mark_text(font="Liberation Serif", fontSize=13, color="#000").encode(
        x=x, y=y, text="t:N")

    return alt.layer(black, green, red, gray, txt).properties(width=W, height=H)


chart = alt.concat(
    *[make_panel(k) for k in range(6)], columns=2, spacing={"row": 54, "column": 97}, bounds="flush"
).resolve_scale(
    fill="independent", stroke="independent", shape="independent"
).properties(
    padding={"left": 3, "top": 1, "right": 0, "bottom": 2}
).configure_view(stroke=None)

chart.save("out.html", embed_options={"renderer": "svg", "actions": False})
